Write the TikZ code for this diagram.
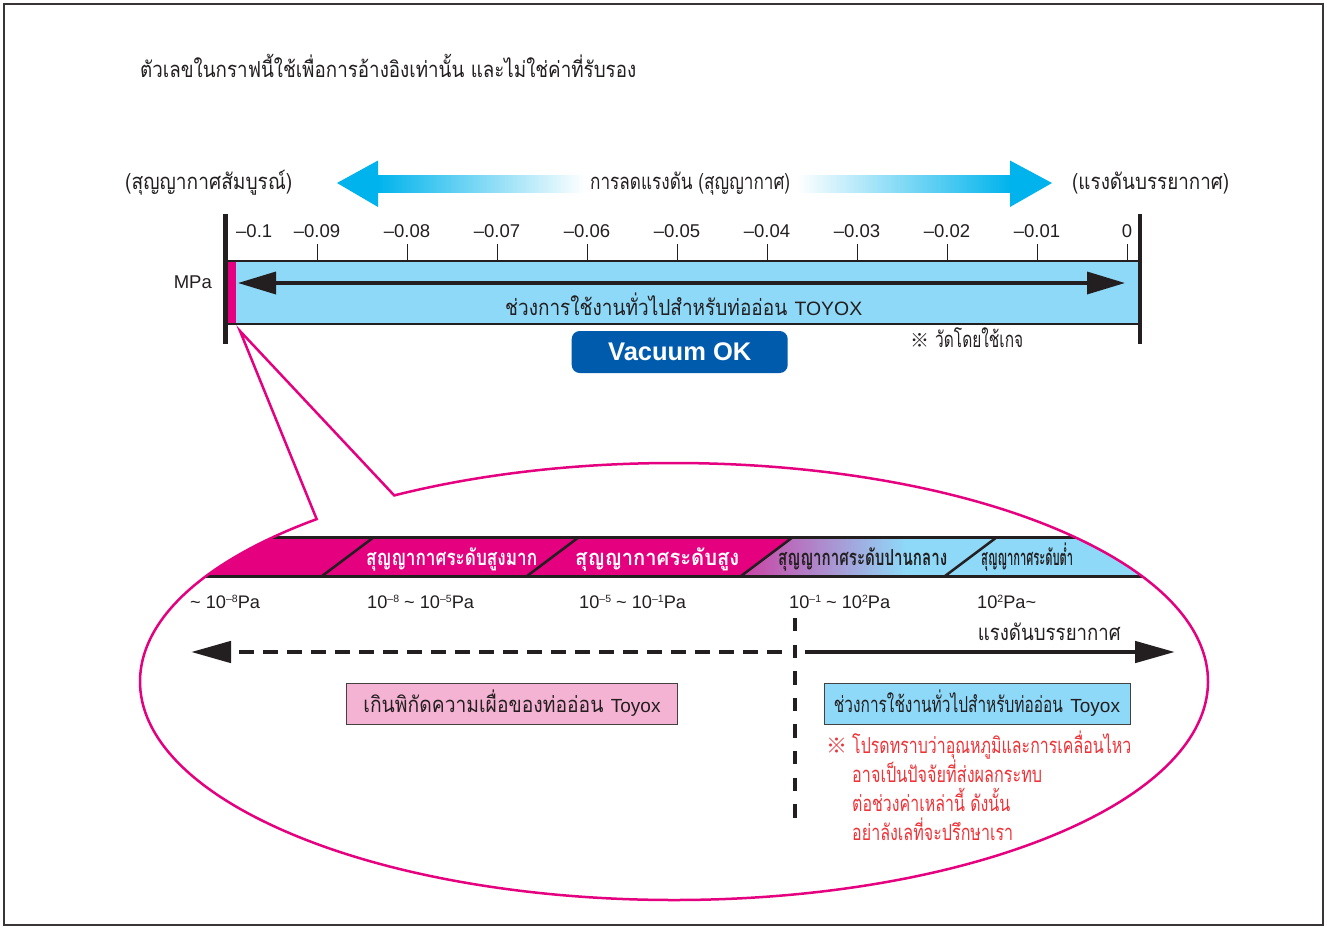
\documentclass[tikz,border=0pt]{standalone}
\usepackage{fontspec}
\usepackage{graphicx}
\setmainfont{Liberation Sans}
\newfontfamily\thai[Script=Thai]{Loma}
\newfontfamily\cjk{Noto Sans CJK JP}
\usetikzlibrary{arrows.meta}

\definecolor{ink}{HTML}{231F20}
\definecolor{bandblue}{HTML}{8ED8F8}
\definecolor{vmagenta}{HTML}{E5007F}
\definecolor{arrowcyan}{HTML}{00B3EC}
\definecolor{okblue}{HTML}{005BAC}
\definecolor{boxpink}{HTML}{F5B3D3}
\definecolor{notered}{HTML}{EE3338}
\colorlet{midpink}{vmagenta!70!bandblue}

% stretch a text to a given width, height unchanged
\newcommand{\fitto}[2]{\resizebox{#1}{\height}{#2}}
\newcommand{\pw}[1]{\raisebox{6pt}{\fontsize{10.5}{12}\selectfont #1}}

\begin{document}
\begin{tikzpicture}[x=1pt,y=-1pt,
    lbl/.style={inner sep=0pt,text=ink,font=\thai\fontsize{22}{26}\selectfont},
    num/.style={inner sep=0pt,text=ink,font=\fontsize{18.5}{22}\selectfont},
    rng/.style={inner sep=0pt,text=ink,font=\fontsize{18.2}{21}\selectfont},
    seglbl/.style={inner sep=0pt,font=\thai\bfseries\fontsize{22}{26}\selectfont},
    note/.style={inner sep=0pt,text=notered,font=\thai\fontsize{22}{26}\selectfont},
    bar/.style={ink,line width=4.5pt},
    tick/.style={ink,line width=1pt},
    callout/.style={vmagenta,line width=2.5pt,line join=miter},
    fat arrow/.style={ink,line width=3.5pt,
      {Triangle[length=38pt,width=22pt]}-{Triangle[length=38pt,width=22pt]}},
    wide arrow/.style={ink,line width=4.7pt,-{Triangle[length=40pt,width=21pt]}},
    rangebox/.style={draw=ink!85,line width=1pt,inner sep=0pt,minimum height=41pt,
      text height=21pt,text depth=4pt,font=\thai\fontsize{22}{26}\selectfont,text=ink}]

\useasboundingbox (0,0) rectangle (1327,929);
\draw[ink!90,line width=1.6pt] (4,4) rectangle (1323,925);

% heading
\node[lbl,anchor=base west] (title) at (140,77.5)
  {\fitto{496pt}{ตัวเลขในกราฟนี้ใช้เพื่อการอ้างอิงเท่านั้น และไม่ใช่ค่าที่รับรอง}};

% direction arrows
\fill[arrowcyan] (337,183) -- (378,160.5) -- (378,207) -- cycle;
\shade[left color=arrowcyan,right color=white] (377,175.5) rectangle (585,192);
\fill[arrowcyan] (1052,183) -- (1010,160.5) -- (1010,207) -- cycle;
\shade[left color=white,right color=arrowcyan] (797,175.5) rectangle (1011,192);
\node[lbl,anchor=base west] (absvac) at (125,189) {\fitto{167pt}{(สุญญากาศสัมบูรณ์)}};
\node[lbl,anchor=base west] (decomp) at (590,189) {\fitto{200pt}{การลดแรงดัน (สุญญากาศ)}};
\node[lbl,anchor=base west] (atmos) at (1072,189) {\fitto{157pt}{(แรงดันบรรยากาศ)}};

% MPa scale
\fill[bandblue] (228,261) rectangle (1138,324);
\fill[vmagenta] (228,261) rectangle (235.5,324);
\draw[ink,line width=1.2pt] (228,261) -- (1138,261) (228,324) -- (1138,324);
\draw[bar] (225.5,214) -- (225.5,344);
\draw[bar] (1140,214) -- (1140,344);
\node[num,anchor=base west] (t0) at (236,237) {–0.1};
\foreach \i/\v in {1/–0.09,2/–0.08,3/–0.07,4/–0.06,5/–0.05,6/–0.04,7/–0.03,8/–0.02,9/–0.01,10/0}{
  \draw[tick] (227+90*\i,244) -- (227+90*\i,261);
  \node[num,anchor=base] (t\i) at (227+90*\i,237) {\v};
}
\node[num,anchor=base east] (unit) at (212,288) {MPa};
\coordinate (useL) at (238,283);
\coordinate (useR) at (1125,283);
\draw[fat arrow] (useL) -- (useR);
\node[lbl,anchor=base west] (usage) at (505,315)
  {\fitto{282pt}{ช่วงการใช้งานทั่วไปสำหรับท่ออ่อน} {\normalfont\fontsize{19.4}{22}\selectfont TOYOX}};
\node[fill=okblue,rounded corners=8pt,minimum width=216pt,minimum height=42pt,inner sep=0pt,
  text=white,font=\bfseries\fontsize{25.5}{28}\selectfont] (ok) at (679.7,352) {Vacuum OK};
\node[lbl,anchor=base west] (gauge) at (910,347)
  {{\cjk\fontsize{19}{20}\selectfont ※}\hspace{6pt}\fitto{88pt}{วัดโดยใช้เกจ}};

% zoomed view
\coordinate (zoomc) at (674,681.5);
\coordinate (ptip) at (240,331);
\begin{scope}
  \clip (zoomc) ellipse [x radius=534pt,y radius=218.5pt];
  \fill[vmagenta] (120,537) -- (793,537) -- (741,576) -- (120,576) -- cycle;
  \fill[bandblue] (793,537) -- (1250,537) -- (1250,576) -- (741,576) -- cycle;
  \begin{scope}
    \clip (793,537) -- (997,537) -- (945,576) -- (741,576) -- cycle;
    \shade[left color=midpink,right color=bandblue] (741,537) rectangle (905,576);
  \end{scope}
  \draw[ink,line width=3pt] (120,537) -- (1250,537) (120,576) -- (1250,576);
  \foreach \b in {322,527,741,945}
    \draw[ink,line width=2.5pt] (\b,576) -- (\b+52,537);
\end{scope}
\draw[callout] (zoomc) ++(132:534pt and 218.5pt)
  arc[start angle=132,end angle=481.6,x radius=534pt,y radius=218.5pt] -- (ptip) -- cycle;

\node[seglbl,text=white,anchor=base west] (vhigh) at (366,565) {\fitto{171pt}{สุญญากาศระดับสูงมาก}};
\node[seglbl,text=white,anchor=base west] (high) at (575,565) {\fitto{164pt}{สุญญากาศระดับสูง}};
\node[seglbl,text=ink,anchor=base west] (medium) at (778,565) {\fitto{169pt}{สุญญากาศระดับปานกลาง}};
\node[seglbl,text=ink,anchor=base west] (low) at (981,565) {\fitto{92pt}{สุญญากาศระดับต่ำ}};

\node[rng,anchor=base west] (r1) at (190,608) {\textasciitilde\ 10\pw{–8}Pa};
\node[rng,anchor=base west] (r2) at (367,608) {10\pw{–8}\ \textasciitilde\ 10\pw{–5}Pa};
\node[rng,anchor=base west] (r3) at (579,608) {10\pw{–5}\ \textasciitilde\ 10\pw{–1}Pa};
\node[rng,anchor=base west] (r4) at (789,608) {10\pw{–1}\ \textasciitilde\ 10\pw{2}Pa};
\node[rng,anchor=base west] (r5) at (977,608) {10\pw{2}Pa\textasciitilde};

\coordinate (splitT) at (795,618);
\coordinate (splitB) at (795,818);
\draw[ink,line width=3.5pt,dash pattern=on 13.3pt off 13.3pt] (splitT) -- (splitB);
\coordinate (lTip) at (191,652);
\coordinate (dashEnd) at (782,652);
\coordinate (solidStart) at (805,652);
\coordinate (rTip) at (1175,652);
\draw[wide arrow,dash pattern=on 15pt off 9pt] (dashEnd) -- (lTip);
\draw[wide arrow] (solidStart) -- (rTip);
\node[lbl,anchor=base east] (atmline) at (1121,640) {\fitto{143pt}{แรงดันบรรยากาศ}};

\node[rangebox,fill=boxpink,minimum width=331pt] (over) at (512,703.5)
  {\fitto{240pt}{เกินพิกัดความเผื่อของท่ออ่อน} {\normalfont\fontsize{19}{22}\selectfont Toyox}};
\node[rangebox,fill=bandblue,minimum width=306pt] (normal) at (977,703.5)
  {\fitto{229pt}{ช่วงการใช้งานทั่วไปสำหรับท่ออ่อน} {\normalfont\fontsize{19}{22}\selectfont Toyox}};

\node[note,anchor=base west] (mark) at (826,753) {{\cjk\fontsize{21}{22}\selectfont ※}};
\foreach \y/\w/\t [count=\i] in {753/279pt/โปรดทราบว่าอุณหภูมิและการเคลื่อนไหว,
    782/190pt/อาจเป็นปัจจัยที่ส่งผลกระทบ,811/158pt/ต่อช่วงค่าเหล่านี้ ดังนั้น,
    840/161pt/อย่าลังเลที่จะปรึกษาเรา}
  \node[note,anchor=base west] (note\i) at (852,\y) {\fitto{\w}{\t}};
\end{tikzpicture}
\end{document}
